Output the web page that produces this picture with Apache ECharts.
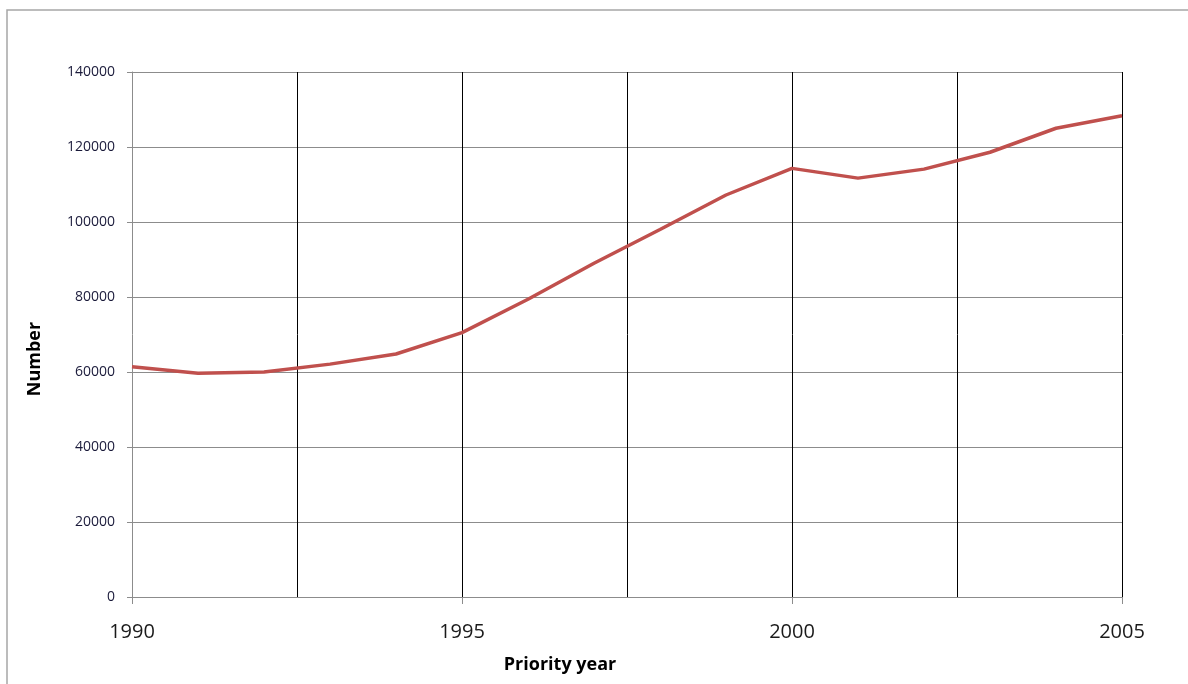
<!DOCTYPE html>
<html>
<head>
<meta charset="utf-8">
<script src="https://cdn.jsdelivr.net/npm/echarts@6/dist/echarts.min.js"></script>
<style>
html,body{margin:0;padding:0;background:#fff;}
#chart{width:1188px;height:684px;}
</style>
</head>
<body>
<div id="chart"></div>
<script>
const years = [1990,1991,1992,1993,1994,1995,1996,1997,1998,1999,2000,2001,2002,2003,2004,2005];
const counts = [61400,59650,60000,62100,64800,70500,79400,89000,98000,107200,114300,111700,114100,118600,125000,128350];
const yTicks = [0,20000,40000,60000,80000,100000,120000,140000];
const xLabelYears = [1990,1995,2000,2005];
const xAxisTitle = 'Priority year';
const yAxisTitle = 'Number';

const chart = echarts.init(document.getElementById('chart'), null, {renderer:'canvas'});
const font = '"Open Sans", "Liberation Sans", sans-serif';
chart.setOption({
  animation:false,
  backgroundColor:'#fff',
  grid:{left:132, right:66, top:72, bottom:87, containLabel:false},
  graphic:[
    {type:'rect', shape:{x:7, y:10, width:1300, height:800}, style:{fill:'none', stroke:'#a6a6a6', lineWidth:1.5}, silent:true},
    {type:'text', x:560, y:665, style:{text:xAxisTitle, font:'bold 18px ' + font, fill:'#000', textAlign:'center', textVerticalAlign:'middle'}, silent:true},
    {type:'text', x:35, y:359, rotation:Math.PI/2, style:{text:yAxisTitle, font:'bold 18px ' + font, fill:'#000', textAlign:'center', textVerticalAlign:'middle'}, silent:true}
  ],
  xAxis:[
    {type:'value', min:1990, max:2005, interval:5,
     axisLine:{show:true, lineStyle:{color:'#8c8c8c', width:1}},
     axisTick:{show:true, length:7, lineStyle:{color:'#8c8c8c'}},
     axisLabel:{show:true, margin:25, fontSize:20, fontFamily:font, color:'#1a1a1a',
       formatter:function(v){ return xLabelYears.indexOf(v) >= 0 ? String(v) : ''; }},
     splitLine:{show:false}},
    {type:'value', min:1990, max:2005, interval:2.5, position:'bottom',
     axisLine:{show:false}, axisTick:{show:false}, axisLabel:{show:false},
     splitLine:{show:true, showMinLine:false, lineStyle:{color:'#000', width:1}}}
  ],
  yAxis:{type:'value', min:0, max:140000, interval:20000,
    axisLine:{show:true, lineStyle:{color:'#8c8c8c', width:1}},
    axisTick:{show:true, length:5, lineStyle:{color:'#8c8c8c'}},
    axisLabel:{margin:17, fontSize:14, fontFamily:font, color:'#1a1a3a',
      formatter:function(v){ return yTicks.indexOf(v) >= 0 ? String(v) : ''; }},
    splitLine:{show:true, lineStyle:{color:'#8c8c8c', width:1}}},
  series:[{type:'line', xAxisIndex:0, data:years.map((y,i)=>[y,counts[i]]),
    showSymbol:false, symbol:'none', lineStyle:{color:'#c0504d', width:3.5}, z:5}]
});
</script>
</body>
</html>
